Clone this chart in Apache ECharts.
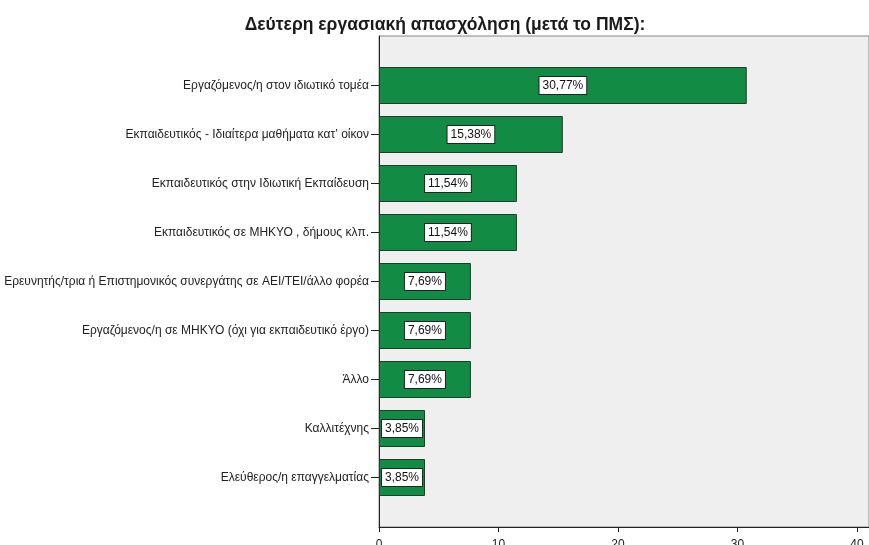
<!DOCTYPE html>
<html>
<head>
<meta charset="utf-8">
<script src="https://cdn.jsdelivr.net/npm/echarts@6/dist/echarts.min.js"></script>
<style>
  html, body { margin: 0; padding: 0; background: #fff; }
  #chart { width: 869px; height: 545px; }
</style>
</head>
<body>
<div id="chart"></div>
<script>
// categories (top to bottom) and percentages
var categories = [
  'Εργαζόμενος/η στον ιδιωτικό τομέα',
  'Εκπαιδευτικός - Ιδιαίτερα μαθήματα κατ’ οίκον',
  'Εκπαιδευτικός στην Ιδιωτική Εκπαίδευση',
  'Εκπαιδευτικός σε ΜΗΚΥΟ , δήμους κλπ.',
  'Ερευνητής/τρια ή Επιστημονικός συνεργάτης σε ΑΕΙ/ΤΕΙ/άλλο φορέα',
  'Εργαζόμενος/η σε ΜΗΚΥΟ (όχι για εκπαιδευτικό έργο)',
  'Άλλο',
  'Καλλιτέχνης',
  'Ελεύθερος/η επαγγελματίας'
]
var percents = [30.77, 15.38, 11.54, 11.54, 7.69, 7.69, 7.69, 3.85, 3.85]
var xTicks = [0, 10, 20, 30, 40]

var chart = echarts.init(document.getElementById('chart'))
var font = 'Arial, "Liberation Sans", sans-serif'

chart.setOption({
  animation: false,
  title: {
    text: 'Δεύτερη εργασιακή απασχόληση (μετά το ΠΜΣ):',
    left: 440,
    textAlign: 'center',
    top: 11,
    textStyle: { fontFamily: font, fontSize: 17.5, fontWeight: 'bold', color: '#1a1a1a' }
  },
  grid: [
    // bars
    { left: 379, top: 61, right: 0, bottom: 43, outerBoundsMode: 'none' },
    // frame / plot background
    { left: 379, top: 36, right: 0, bottom: 18, outerBoundsMode: 'none', show: true, backgroundColor: '#efefef', borderColor: '#888', borderWidth: 1 }
  ],
  xAxis: [
    { gridIndex: 0, type: 'value', min: 0, max: 41, show: false, splitLine: { show: false } },
    {
      gridIndex: 1, type: 'value', min: 0, max: 41, interval: 10,
      axisLine: { show: true, lineStyle: { color: '#222', width: 1 } },
      axisTick: { show: true, length: 5, lineStyle: { color: '#222' } },
      axisLabel: {
        showMaxLabel: false, margin: 12, color: '#222', fontFamily: font, fontSize: 12,
        formatter: function (v) { return xTicks.indexOf(v) >= 0 ? String(v) : '' }
      },
      splitLine: { show: false }
    }
  ],
  yAxis: [
    {
      gridIndex: 0, type: 'category', data: categories, inverse: true,
      axisLine: { show: false },
      axisTick: { show: true, alignWithLabel: true, length: 8, lineStyle: { color: '#222' } },
      axisLabel: { margin: 10, color: '#222', fontFamily: font, fontSize: 12 }
    },
    {
      gridIndex: 1, type: 'value', min: 0, max: 1,
      axisLine: { show: true, lineStyle: { color: '#222', width: 1 } },
      axisTick: { show: false }, axisLabel: { show: false }, splitLine: { show: false }
    }
  ],
  series: [{
    type: 'bar',
    xAxisIndex: 0,
    yAxisIndex: 0,
    data: percents,
    barWidth: 37,
    itemStyle: { color: '#128b45', borderColor: '#1d3f26', borderWidth: 1 },
    label: {
      show: true,
      position: 'inside',
      formatter: function (p) { return p.value.toFixed(2).replace('.', ',') + '%' },
      color: '#111',
      fontFamily: font,
      fontSize: 12,
      backgroundColor: '#fff',
      borderColor: '#222',
      borderWidth: 1,
      padding: [3, 3, 2, 3]
    }
  }]
})
</script>
</body>
</html>
